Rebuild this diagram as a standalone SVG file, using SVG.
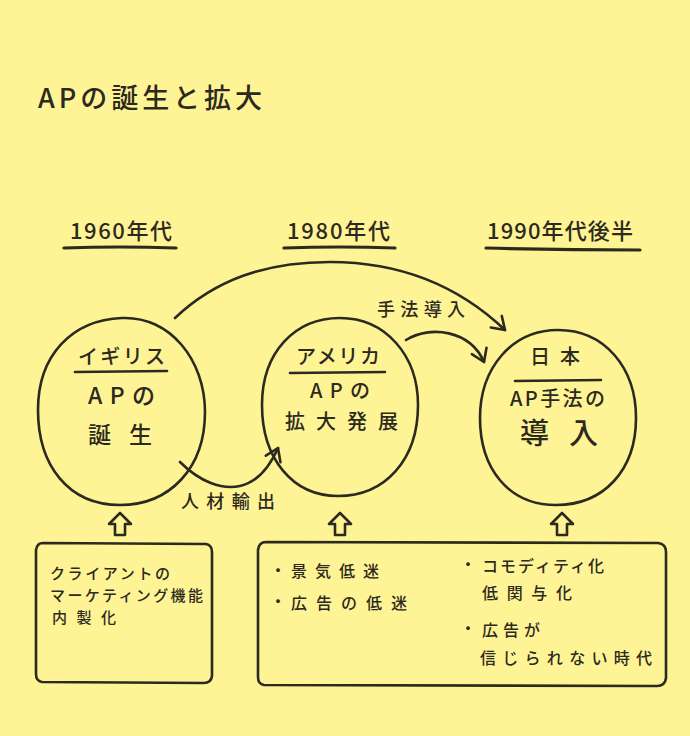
<svg xmlns="http://www.w3.org/2000/svg" width="690" height="736" viewBox="0 0 690 736">
<defs>
<style>
.bg{fill:#fff495}
.ln{fill:none;stroke:#2c2a1e;stroke-width:2.6;stroke-linecap:round;stroke-linejoin:round}
.ul{fill:none;stroke:#2c2a1e;stroke-width:3.2;stroke-linecap:round}
.t{font-family:"Noto Sans CJK JP","Noto Sans",sans-serif;fill:#2c2a1e;font-weight:500}
.title{font-size:27px}
.hd{font-size:22px}
.nl{font-size:20px}
.nb{font-size:23px}
.nm{font-size:20px}
.lb{font-size:18px}
.bx{font-size:16px}
.bl{font-size:15px}
</style>
<marker id="ah" viewBox="0 0 20 20" refX="14" refY="10" markerWidth="20" markerHeight="20" markerUnits="userSpaceOnUse" orient="auto">
<path d="M2,2 L14,10 L2,18" fill="none" stroke="#2c2a1e" stroke-width="2.6" stroke-linecap="round" stroke-linejoin="round"/>
</marker>
</defs>
<rect class="bg" x="0" y="0" width="690" height="736"/>

<g id="title">
<text class="t title" x="38" y="108" textLength="224" lengthAdjust="spacing">APの誕生と拡大</text>
</g>

<g id="era1960">
<text class="t hd" x="70" y="239" textLength="102" lengthAdjust="spacing">1960年代</text>
<path class="ul" d="M64,248 Q120,246 176,248"/>
</g>
<g id="era1980">
<text class="t hd" x="287" y="239" textLength="103" lengthAdjust="spacing">1980年代</text>
<path class="ul" d="M284,248 Q340,246 395,248"/>
</g>
<g id="era1990">
<text class="t hd" x="487" y="239" textLength="146" lengthAdjust="spacing">1990年代後半</text>
<path class="ul" d="M486,248 Q563,250 640,250"/>
</g>

<g id="uk">
<path class="ln" d="M122,318 C170,316 205,360 205,412 C205,468 170,505 120,505 C68,505 38,465 38,410 C38,355 72,320 122,318 Z"/>
<text class="t nl" x="78" y="364" textLength="87" lengthAdjust="spacing">イギリス</text>
<path class="ln" d="M75,372 L167,371"/>
<text class="t nb" x="88" y="404" textLength="67" lengthAdjust="spacing">APの</text>
<text class="t nb" x="88" y="443" textLength="64" lengthAdjust="spacing">誕生</text>
</g>

<g id="usa">
<path class="ln" d="M340,318 C385,318 418,355 418,405 C418,460 385,496 338,496 C292,496 262,458 262,405 C262,352 295,318 340,318 Z"/>
<text class="t nl" x="296" y="364" textLength="84" lengthAdjust="spacing">アメリカ</text>
<path class="ln" d="M290,373 L385,372"/>
<text class="t nm" x="310" y="398" textLength="60" lengthAdjust="spacing">APの</text>
<text class="t nm" x="285" y="429" textLength="113" lengthAdjust="spacing">拡大発展</text>
</g>

<g id="japan">
<path class="ln" d="M558,330 C605,330 636,368 636,418 C636,470 604,505 556,505 C508,505 480,468 480,418 C480,368 512,330 558,330 Z"/>
<text class="t nl" x="530" y="364" textLength="50" lengthAdjust="spacing">日本</text>
<path class="ln" d="M515,381 L601,380"/>
<text class="t nl" x="510" y="406" textLength="95" lengthAdjust="spacing">AP手法の</text>
<text class="t" style="font-size:29px" x="520" y="444" textLength="78" lengthAdjust="spacing">導 入</text>
</g>

<g id="connectors">
<path class="ln" d="M175,318 C215,280 265,262 330,262 C410,262 465,292 505,330" marker-end="url(#ah)"/>
<path class="ln" d="M406,340 C430,325 470,330 484,362" marker-end="url(#ah)"/>
<path class="ln" d="M180,462 C200,482 222,490 240,486 C258,482 270,466 278,448" marker-end="url(#ah)"/>
<path class="ln" d="M120,513 L131,524 L125,524 L125,535 L115,535 L115,524 L109,524 Z"/>
<path class="ln" d="M340,513 L351,524 L345,524 L345,535 L335,535 L335,524 L329,524 Z"/>
<path class="ln" d="M562,513 L573,524 L567,524 L567,535 L557,535 L557,524 L551,524 Z"/>
</g>

<g id="label-method">
<text class="t lb" x="377" y="316" textLength="88" lengthAdjust="spacing">手法導入</text>
</g>
<g id="label-talent">
<text class="t lb" x="181" y="508" textLength="94" lengthAdjust="spacing">人材輸出</text>
</g>

<g id="box-left">
<path class="ln" d="M43,543 L206,544 Q212,545 212,552 L212,676 Q211,683 204,683 L42,682 Q36,681 36,674 L36,550 Q37,543 43,543 Z"/>
<text class="t bl" x="50" y="579" textLength="120" lengthAdjust="spacing">クライアントの</text>
<text class="t bl" x="50" y="601" textLength="153" lengthAdjust="spacing">マーケティング機能</text>
<text class="t bl" x="52" y="623" textLength="64" lengthAdjust="spacing">内製化</text>
</g>

<g id="box-right">
<path class="ln" d="M266,542 L658,543 Q666,544 666,552 L666,678 Q665,686 657,686 L264,685 Q258,684 258,677 L258,550 Q259,542 266,542 Z"/>
<text class="t bx" x="270" y="576">・</text>
<text class="t bx" x="291" y="577" textLength="88" lengthAdjust="spacing">景気低迷</text>
<text class="t bx" x="270" y="607">・</text>
<text class="t bx" x="291" y="609" textLength="116" lengthAdjust="spacing">広告の低迷</text>
<text class="t bx" x="460" y="570">・</text>
<text class="t bx" x="482" y="572" textLength="122" lengthAdjust="spacing">コモディティ化</text>
<text class="t bx" x="482" y="599" textLength="90" lengthAdjust="spacing">低関与化</text>
<text class="t bx" x="460" y="634">・</text>
<text class="t bx" x="482" y="636" textLength="58" lengthAdjust="spacing">広告が</text>
<text class="t bx" x="480" y="664" textLength="172" lengthAdjust="spacing">信じられない時代</text>
</g>
</svg>
